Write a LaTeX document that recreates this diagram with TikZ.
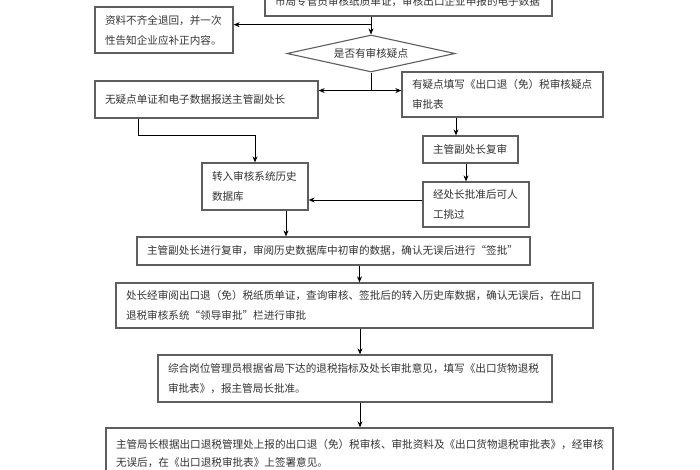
\documentclass[tikz,border=0pt]{standalone}
\usepackage{fontspec}
\newfontfamily\cjk{Noto Sans CJK SC}
\usepackage{tikz}
\usetikzlibrary{positioning, shapes.geometric, arrows.meta, calc}
\usepackage{xcolor}
\definecolor{boxgray}{HTML}{5E5E5E}
\definecolor{txtgray}{HTML}{333333}

\begin{document}
\begin{tikzpicture}[x=1pt, y=-1pt,
    box/.style={draw=boxgray, line width=1.3pt, rectangle, inner xsep=10pt, inner ysep=0pt,
      align=left, text=txtgray, font=\cjk\fontsize{10.6}{20}\selectfont},
    decide/.style={draw=boxgray, line width=1.1pt, diamond, aspect=4.5, inner sep=0pt,
      minimum width=168pt, minimum height=37pt, text=txtgray, font=\cjk\fontsize{10.6}{20}\selectfont},
    arr/.style={draw=black, line width=0.9pt, -{Stealth[length=6pt, width=5pt]}}]
  \fill[white] (0,0) rectangle (700,470);
  \useasboundingbox (0,0) rectangle (700,470);
  \clip (0,0) rectangle (700,470);

  % upper part
  \node[box, text width=267pt, minimum height=29pt] (check) at (408.5,1.5) {市局专管员审核纸质单证，审核出口企业申报的电子数据};
  \node[box, text width=118pt, minimum height=46pt] (back) at (164,30) {资料不齐全退回，并一次\\性告知企业应补正内容。};
  \node[decide] (doubt) at (371,53.5) {是否有审核疑点};
  \node[box, text width=203pt, minimum height=37pt] (noq) at (206.5,99.5) {无疑点单证和电子数据报送主管副处长};
  \node[box, text width=181pt, minimum height=45pt] (hasq) at (502.5,94.5) {有疑点填写《出口退（免）税审核疑点\\审批表};
  \node[box, text width=75pt, minimum height=27pt] (review) at (470.5,149.5) {主管副处长复审};
  \node[box, text width=86pt, minimum height=45pt] (skip) at (476,204.5) {经处长批准后可人\\工挑过};
  \node[box, text width=86pt, minimum height=47pt] (hist) at (255,186.5) {转入审核系统历史\\数据库};

  % lower part
  \node[box, text width=373pt, minimum height=28pt] (sign) at (333.5,251) {主管副处长进行复审，审阅历史数据库中初审的数据，确认无误后进行“签批”};
  \node[box, text width=457pt, minimum height=45pt] (chief) at (354.5,305.5) {处长经审阅出口退（免）税纸质单证，查询审核、签批后的转入历史库数据，确认无误后，在出口\\退税审核系统“领导审批”栏进行审批};
  \node[box, text width=374pt, minimum height=47pt] (admin) at (355,378.5) {综合岗位管理员根据省局下达的退税指标及处长审批意见，填写《出口货物退税\\审批表》，报主管局长批准。};
  \node[box, text width=487pt, minimum height=52pt, font=\cjk\fontsize{10.6}{18}\selectfont] (head) at (359.5,454) {主管局长根据出口退税管理处上报的出口退（免）税审核、审批资料及《出口货物退税审批表》，经审核\\无误后，在《出口退税审批表》上签署意见。};

  % connectors
  \coordinate (j1) at ($(check.south)!0.45!(doubt.north)$);
  \coordinate (j2) at ([yshift=-18pt]doubt.south);
  \draw[arr] (check.south -| doubt.north) -- (doubt.north);
  \draw[arr] (j1 -| doubt.north) -- (j1 -| back.east);
  \draw[line width=0.9pt] (doubt.south) -- (j2);
  \draw[arr] (j2) -- (j2 -| noq.east);
  \draw[arr] (j2) -- (j2 -| hasq.west);
  \draw[arr] ([xshift=-68.5pt]noq.south) |- ([yshift=27pt]hist.north) -- (hist.north);
  \draw[arr] ([xshift=-46.5pt]hasq.south) -- ([xshift=-46.5pt]hasq.south |- review.north);
  \draw[arr] ([xshift=-4.5pt]review.south) -- ([xshift=-4.5pt]review.south |- skip.north);
  \draw[arr] ([yshift=4.5pt]skip.west) -- ([yshift=4.5pt]skip.west -| hist.east);
  \draw[arr] ([xshift=31pt]hist.south) -- ([xshift=31pt]hist.south |- sign.north);
  \draw[arr] ([xshift=26pt]sign.south) -- ([xshift=26pt]sign.south |- chief.north);
  \draw[arr] ([xshift=5.5pt]chief.south) -- ([xshift=5.5pt]chief.south |- admin.north);
  \draw[arr] ([xshift=5pt]admin.south) -- ([xshift=5pt]admin.south |- head.north);
\end{tikzpicture}
\end{document}
